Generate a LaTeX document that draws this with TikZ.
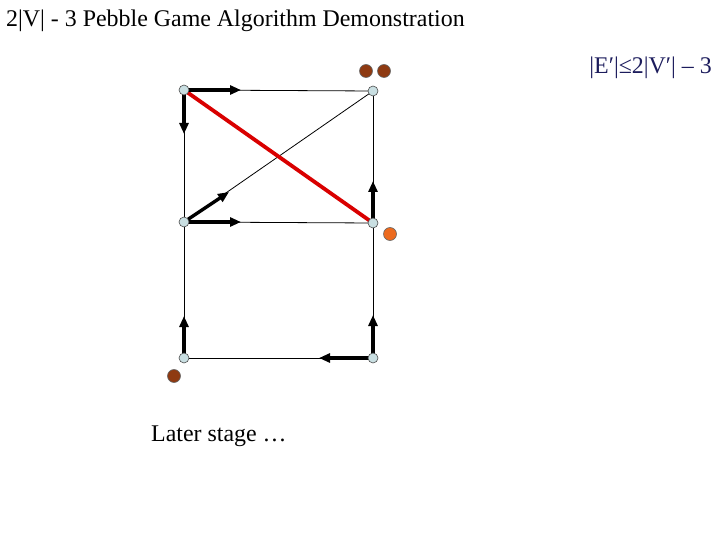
\documentclass[tikz,border=0pt]{standalone}
\usepackage{fontspec}
\setmainfont{Liberation Serif}
\usetikzlibrary{arrows.meta}
\definecolor{vfill}{HTML}{C9DFE2}
\definecolor{pbrown}{HTML}{8E3A12}
\definecolor{porange}{HTML}{EC6A1E}
\definecolor{navy}{HTML}{1C1C5C}
\begin{document}
\begin{tikzpicture}[x=1bp,y=-1bp,
  vert/.style={circle,draw=black!70,line width=0.6bp,fill=vfill,inner sep=0pt,minimum size=10bp},
  pebble/.style={circle,draw=black!60,line width=0.6bp,inner sep=0pt,minimum size=13bp},
  edge/.style={line width=0.8bp,black},
  dir/.style={line width=3.4bp,-{Triangle[length=11bp,width=9bp]}},
  red edge/.style={line width=3.8bp,color=red!85!black},
  txt/.style={font=\fontsize{24}{28}\selectfont,inner sep=0pt}
]
\useasboundingbox (0,0) rectangle (720,540);
\node[anchor=base west,txt] (title) at (6,27) {2|V| - 3 Pebble Game Algorithm Demonstration};
\node[anchor=base east,txt,text=navy] (formula) at (712,74) {|E′|≤2|V′| – 3};
\node[anchor=base west,txt] (later) at (151,441) {Later stage …};

\coordinate (a) at (184,90);
\coordinate (b) at (373,91);
\coordinate (c) at (184,222);
\coordinate (d) at (373,223);
\coordinate (e) at (184,358);
\coordinate (f) at (373,358);

% thin edges
\draw[edge] (a) -- (b);
\draw[edge] (a) -- (c);
\draw[edge] (c) -- (d);
\draw[edge] (b) -- (d);
\draw[edge] (c) -- (e);
\draw[edge] (d) -- (f);
\draw[edge] (e) -- (f);
\draw[edge] (c) -- (b);
\draw[red edge] (a) -- (d);

% pebble arrows
\coordinate (a1) at (241,90);
\coordinate (a2) at (184,134);
\coordinate (c1) at (229,192);
\coordinate (c2) at (241,222);
\coordinate (d1) at (373,181);
\coordinate (e1) at (184,316);
\coordinate (f1) at (373,315);
\coordinate (f2) at (319,358);
\draw[dir] (a) -- (a1);
\draw[dir] (a) -- (a2);
\draw[dir] (c) -- (c1);
\draw[dir] (c) -- (c2);
\draw[dir] (d) -- (d1);
\draw[dir] (e) -- (e1);
\draw[dir] (f) -- (f1);
\draw[dir] (f) -- (f2);

% vertices
\node[vert] (va) at (a) {};
\node[vert] (vb) at (b) {};
\node[vert] (vc) at (c) {};
\node[vert] (vd) at (d) {};
\node[vert] (ve) at (e) {};
\node[vert] (vf) at (f) {};

% pebbles
\node[pebble,fill=pbrown] (p1) at (366,71) {};
\node[pebble,fill=pbrown] (p2) at (384,71) {};
\node[pebble,fill=porange] (p3) at (390,234) {};
\node[pebble,fill=pbrown] (p4) at (174,376) {};
\end{tikzpicture}
\end{document}
